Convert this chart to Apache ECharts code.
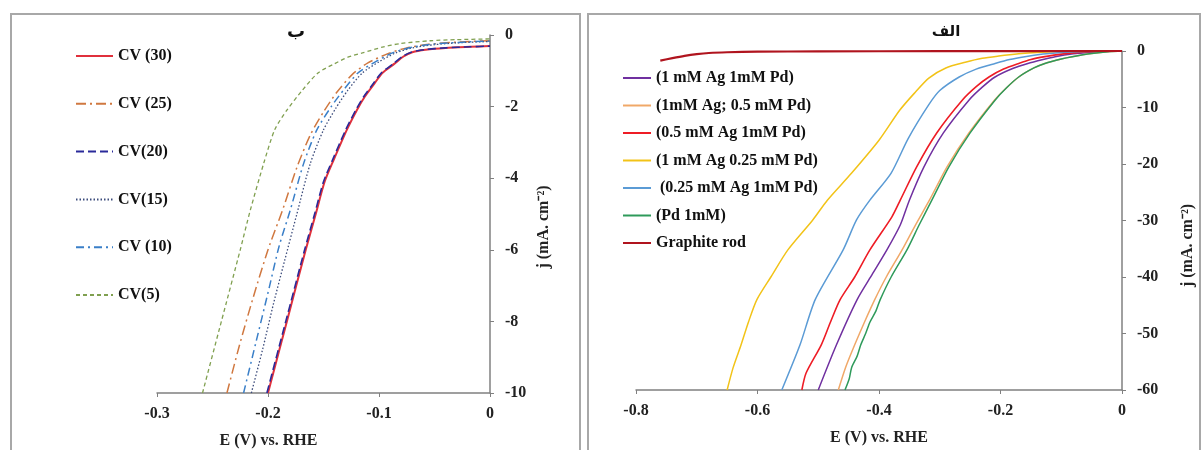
<!DOCTYPE html>
<html>
<head>
<meta charset="utf-8">
<script src="https://cdn.jsdelivr.net/npm/echarts@6/dist/echarts.min.js"></script>
<style>html,body{margin:0;padding:0;background:#fff;}#c{width:1202px;height:450px;}</style>
</head>
<body>
<div id="c"></div>
<script>
// ---------- Panel ب (left): CV cycles, [E (V), j (mA cm-2)] ----------
const leftNames = ['CV (30)', 'CV (25)', 'CV(20)', 'CV(15)', 'CV (10)', 'CV(5)'];
const cv30 = [[-0.200,-10],[-0.183,-8],[-0.166,-6],[-0.157,-5],[-0.149,-4.1],[-0.141,-3.5],[-0.129,-2.65],[-0.120,-2.1],[-0.113,-1.73],[-0.104,-1.35],[-0.097,-1.06],[-0.086,-0.8],[-0.078,-0.6],[-0.070,-0.48],[-0.058,-0.41],[-0.040,-0.36],[-0.018,-0.33],[0,-0.31]];
const cv25 = [[-0.237,-10],[-0.226,-8.7],[-0.214,-7.4],[-0.200,-6.0],[-0.187,-4.9],[-0.174,-3.7],[-0.162,-2.8],[-0.150,-2.15],[-0.138,-1.6],[-0.124,-1.1],[-0.110,-0.78],[-0.092,-0.52],[-0.075,-0.36],[-0.055,-0.26],[-0.030,-0.2],[0,-0.16]];
const cv20 = [[-0.201,-10],[-0.184,-8],[-0.167,-6],[-0.158,-5],[-0.150,-4.1],[-0.142,-3.5],[-0.130,-2.65],[-0.121,-2.1],[-0.114,-1.73],[-0.105,-1.35],[-0.098,-1.06],[-0.087,-0.8],[-0.079,-0.6],[-0.071,-0.48],[-0.059,-0.41],[-0.040,-0.36],[-0.018,-0.33],[0,-0.31]];
const cv15 = [[-0.215,-10],[-0.205,-8.8],[-0.195,-7.5],[-0.185,-6.3],[-0.174,-5],[-0.162,-3.6],[-0.150,-2.65],[-0.139,-2.05],[-0.128,-1.54],[-0.115,-1.06],[-0.100,-0.75],[-0.085,-0.5],[-0.070,-0.36],[-0.050,-0.27],[-0.030,-0.22],[0,-0.18]];
const cv10 = [[-0.222,-10],[-0.211,-8.6],[-0.200,-7.2],[-0.190,-5.9],[-0.180,-4.9],[-0.168,-3.6],[-0.156,-2.65],[-0.143,-2.0],[-0.132,-1.54],[-0.119,-1.06],[-0.106,-0.8],[-0.088,-0.5],[-0.070,-0.34],[-0.050,-0.25],[-0.025,-0.2],[0,-0.17]];
const cv5  = [[-0.259,-10],[-0.242,-8],[-0.225,-6],[-0.216,-4.9],[-0.204,-3.6],[-0.194,-2.65],[-0.183,-2.1],[-0.169,-1.54],[-0.155,-1.06],[-0.140,-0.8],[-0.128,-0.62],[-0.115,-0.5],[-0.097,-0.34],[-0.081,-0.24],[-0.054,-0.16],[-0.030,-0.13],[0,-0.11]];

// ---------- Panel الف (right): electrodes ----------
const rightNames = ['(1 mM Ag 1mM Pd)', '(1mM Ag; 0.5 mM Pd)', '(0.5 mM Ag 1mM Pd)', '(1 mM Ag 0.25 mM Pd)', ' (0.25 mM Ag 1mM Pd)', '(Pd 1mM)', 'Graphite rod'];
const agPd11   = [[-0.500,-60],[-0.470,-52],[-0.436,-44],[-0.411,-39.5],[-0.387,-35.2],[-0.365,-30.8],[-0.350,-26.4],[-0.326,-20.5],[-0.294,-14.5],[-0.252,-8.7],[-0.230,-6.4],[-0.209,-4.6],[-0.180,-3.1],[-0.155,-2.2],[-0.130,-1.5],[-0.110,-1.0],[-0.080,-0.5],[-0.050,-0.2],[0,0]];
const agPd105  = [[-0.467,-60],[-0.455,-56],[-0.440,-52],[-0.424,-48],[-0.407,-44],[-0.388,-40],[-0.362,-35.2],[-0.340,-30.8],[-0.317,-26.4],[-0.288,-20.5],[-0.252,-14.5],[-0.210,-8.7],[-0.190,-6.5],[-0.170,-4.6],[-0.145,-3.0],[-0.127,-2.2],[-0.100,-1.4],[-0.082,-1.0],[-0.050,-0.45],[-0.020,-0.1],[0,0]];
const agPd051  = [[-0.527,-60],[-0.520,-57],[-0.495,-52],[-0.480,-48],[-0.464,-44],[-0.440,-40],[-0.415,-35.2],[-0.379,-29.4],[-0.365,-26.4],[-0.338,-20.5],[-0.305,-14.5],[-0.263,-8.7],[-0.240,-6.3],[-0.219,-4.6],[-0.195,-3.2],[-0.170,-2.2],[-0.150,-1.5],[-0.127,-1.0],[-0.100,-0.55],[-0.070,-0.25],[-0.030,-0.05],[0,0]];
const agPd1025 = [[-0.650,-60],[-0.640,-56],[-0.627,-52],[-0.615,-48],[-0.601,-44],[-0.578,-40],[-0.550,-35.2],[-0.509,-29.9],[-0.485,-26.4],[-0.445,-21.6],[-0.400,-15.8],[-0.366,-10.5],[-0.342,-7.5],[-0.318,-4.8],[-0.290,-3.0],[-0.258,-2.0],[-0.230,-1.3],[-0.203,-0.9],[-0.170,-0.5],[-0.140,-0.25],[-0.100,-0.1],[-0.050,-0.03],[0,0]];
const agPd0251 = [[-0.560,-60],[-0.530,-52],[-0.505,-44],[-0.459,-35.2],[-0.437,-29.9],[-0.415,-26.4],[-0.380,-21.6],[-0.352,-15.5],[-0.318,-9.5],[-0.300,-7.0],[-0.268,-4.6],[-0.240,-3.2],[-0.209,-2.2],[-0.185,-1.5],[-0.160,-1.0],[-0.130,-0.55],[-0.100,-0.25],[-0.060,-0.08],[0,0]];
const pd1      = [[-0.456,-60],[-0.449,-58],[-0.445,-56],[-0.436,-54],[-0.430,-52],[-0.422,-50],[-0.415,-48],[-0.405,-46],[-0.398,-44],[-0.380,-40],[-0.354,-35.2],[-0.334,-30.8],[-0.313,-26.4],[-0.285,-20.5],[-0.250,-14.5],[-0.209,-8.7],[-0.190,-6.5],[-0.170,-4.6],[-0.145,-3.0],[-0.127,-2.2],[-0.100,-1.4],[-0.082,-1.0],[-0.050,-0.45],[-0.020,-0.1],[0,0]];
const graphite = [[-0.760,-1.7],[-0.740,-1.25],[-0.720,-0.85],[-0.700,-0.55],[-0.680,-0.35],[-0.650,-0.22],[-0.600,-0.12],[-0.500,-0.07],[-0.300,-0.03],[0,0]];

// ---------- Axis ticks and texts ----------
const leftX = {min: -0.3, max: 0, interval: 0.1};
const leftY = {min: -10, max: 0, interval: 2};
const rightX = {min: -0.8, max: 0, interval: 0.2};
const rightY = {min: -60, max: 0, interval: 10};
const xName = 'E (V) vs. RHE';
const yName = 'j (mA. cm\u207B\u00B2)';
const titleLeft = 'ب';
const titleRight = 'الف';

const FONT = 'Liberation Serif';
const axisCol = '#808080';

function xAxisCfg(idx, r, pad) {
  return {
    type: 'value', gridIndex: idx, min: r.min, max: r.max, interval: r.interval,
    name: xName, nameLocation: 'middle', nameGap: 40,
    nameTextStyle: {fontFamily: FONT, fontWeight: 'bold', fontSize: 16, color: '#222', padding: pad},
    axisLine: {onZero: false, lineStyle: {color: axisCol, width: 1.5}},
    axisTick: {show: true, length: 4, lineStyle: {color: axisCol}},
    axisLabel: {fontFamily: FONT, fontWeight: 'bold', fontSize: 16, color: '#222', margin: 13,
      formatter: v => (Math.abs(v) < 1e-9 ? '0' : String(+v.toFixed(2)))},
    splitLine: {show: false}
  };
}
function yAxisCfg(idx, r, gap, pad) {
  return {
    type: 'value', gridIndex: idx, min: r.min, max: r.max, interval: r.interval, position: 'right',
    name: yName, nameLocation: 'middle', nameGap: gap, nameRotate: 90,
    nameTextStyle: {fontFamily: FONT, fontWeight: 'bold', fontSize: 16, color: '#222', padding: pad},
    axisLine: {onZero: false, lineStyle: {color: axisCol, width: 1.5}},
    axisTick: {show: true, length: 4, lineStyle: {color: axisCol}},
    axisLabel: {fontFamily: FONT, fontWeight: 'bold', fontSize: 16, color: '#222', margin: 15},
    splitLine: {show: false}
  };
}
function ln(name, data, color, width, type, xi) {
  return {
    name, type: 'line', data, xAxisIndex: xi, yAxisIndex: xi, symbol: 'none', showSymbol: false,
    smooth: 0.25, lineStyle: {color, width, type}, itemStyle: {color}, animation: false
  };
}

const legendText = {fontFamily: FONT, fontWeight: 'bold', fontSize: 16, lineHeight: 16, color: '#111'};

const option = {
  backgroundColor: '#fff',
  animation: false,
  grid: [
    {left: 157, top: 35, width: 333, height: 358, containLabel: false, outerBoundsMode: 'none'},
    {left: 636, top: 51, width: 486, height: 339, containLabel: false, outerBoundsMode: 'none'}
  ],
  xAxis: [xAxisCfg(0, leftX, [0, 110, 0, 0]), xAxisCfg(1, rightX, [0, 0, 0, 0])],
  yAxis: [yAxisCfg(0, leftY, 46, [0, 26, 0, 0]), yAxisCfg(1, rightY, 58, [0, 50, 0, 0])],
  legend: [
    {data: leftNames, orient: 'vertical', left: 75, top: 48, padding: 0, itemWidth: 37, itemHeight: 16, itemGap: 31.8,
     itemStyle: {opacity: 0}, textStyle: legendText, selectedMode: false},
    {data: rightNames, orient: 'vertical', left: 622, top: 70, padding: 0, itemWidth: 28, itemHeight: 16, itemGap: 11.5,
     itemStyle: {opacity: 0}, textStyle: legendText, selectedMode: false}
  ],
  series: [
    ln(leftNames[0], cv30, '#e0303c', 2, 'solid', 0),
    ln(leftNames[1], cv25, '#d07840', 1.5, [10, 4, 2, 4], 0),
    ln(leftNames[2], cv20, '#2a2a9a', 1.6, [8, 4], 0),
    ln(leftNames[3], cv15, '#3c4c7c', 1.3, [1.5, 2], 0),
    ln(leftNames[4], cv10, '#3a7fc8', 1.5, [8, 4, 2, 4], 0),
    ln(leftNames[5], cv5, '#80a050', 1.3, [4, 3], 0),
    ln(rightNames[0], agPd11, '#7030a0', 1.5, 'solid', 1),
    ln(rightNames[1], agPd105, '#f0a868', 1.5, 'solid', 1),
    ln(rightNames[2], agPd051, '#ee1c25', 1.6, 'solid', 1),
    ln(rightNames[3], agPd1025, '#f2c318', 1.5, 'solid', 1),
    ln(rightNames[4], agPd0251, '#5b9bd5', 1.5, 'solid', 1),
    ln(rightNames[5], pd1, '#2e9a5a', 1.5, 'solid', 1),
    ln(rightNames[6], graphite, '#b0141e', 2.2, 'solid', 1)
  ],
  graphic: [
    {type: 'rect', shape: {x: 11, y: 14, width: 569, height: 460}, style: {fill: 'none', stroke: '#a8a8a8', lineWidth: 2}, silent: true},
    {type: 'rect', shape: {x: 588, y: 14, width: 612, height: 460}, style: {fill: 'none', stroke: '#a8a8a8', lineWidth: 2}, silent: true},
    {type: 'text', x: 296, y: 32, style: {text: titleLeft, fontFamily: 'DejaVu Sans', fontWeight: 'bold', fontSize: 18, fill: '#111', textAlign: 'center', textVerticalAlign: 'middle'}},
    {type: 'text', x: 946, y: 32, style: {text: titleRight, fontFamily: 'DejaVu Sans', fontWeight: 'bold', fontSize: 15, fill: '#111', textAlign: 'center', textVerticalAlign: 'middle'}}
  ]
};

const chart = echarts.init(document.getElementById('c'), null, {renderer: 'canvas'});
chart.setOption(option);
</script>
</body>
</html>
